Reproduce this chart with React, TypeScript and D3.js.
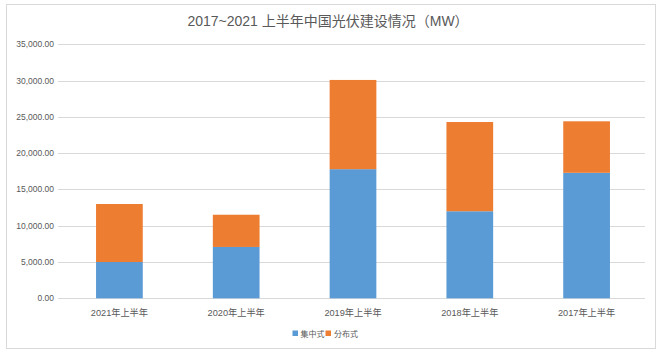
import React from "react";
import * as d3 from "d3";

const categories = ["2021年上半年", "2020年上半年", "2019年上半年", "2018年上半年", "2017年上半年"];
const centralized = [5000, 7080, 17800, 12000, 17300];
const distributed = [8000, 4440, 12300, 12300, 7100];
const seriesNames = ["集中式", "分布式"];
const yTicks = [0, 5000, 10000, 15000, 20000, 25000, 30000, 35000];
const title = "2017~2021 上半年中国光伏建设情况（MW）";

const W = 662;
const H = 361;
const colors = ["#5B9BD5", "#ED7D31"];
const FONT = "'Liberation Sans', 'Noto Sans CJK SC', sans-serif";

export default function App() {
  const x = d3.scaleBand<string>().domain(categories).range([61, 645]).paddingInner(0.6).paddingOuter(0.3);
  const y = d3.scaleLinear().domain([0, 35000]).range([298.3, 44.4]);
  const fmt = d3.format(",.2f");
  const rows = categories.map((c, i) => ({ c, a: centralized[i], b: distributed[i] }));
  const stack = d3.stack<any>().keys(["a", "b"])(rows);

  return (
    <svg width={W} height={H} style={{ position: "absolute", left: 0, top: 0, background: "#fff" }}>
      <rect x={6.5} y={4.5} width={649} height={344} fill="#fff" stroke="#d9d9d9" strokeWidth={1} />
      <text x={328} y={26} textAnchor="middle" fontFamily={FONT} fontSize={14} fill="#595959">{title}</text>
      {yTicks.map((t) => (
        <g key={t}>
          <line x1={58} x2={645} y1={Math.round(y(t)) + 0.5} y2={Math.round(y(t)) + 0.5} stroke="#d9d9d9" strokeWidth={1} />
          <text x={54} y={y(t) + 3} textAnchor="end" fontFamily={FONT} fontSize={8.5} fill="#595959">{fmt(t)}</text>
        </g>
      ))}
      {stack.map((s, si) => (
        <g key={si} fill={colors[si]}>
          {s.map((d: any, i: number) => (
            <rect key={i} x={x(categories[i])} width={x.bandwidth()} y={y(d[1])} height={y(d[0]) - y(d[1])} />
          ))}
        </g>
      ))}
      {categories.map((c) => (
        <text key={c} x={(x(c) as number) + x.bandwidth() / 2} y={315.5} textAnchor="middle" fontFamily={FONT} fontSize={9.2} fill="#595959">{c}</text>
      ))}
      <g>
        <rect x={292.5} y={330.5} width={5.5} height={5.5} fill={colors[0]} />
        <text x={300.5} y={336.5} fontFamily={FONT} fontSize={8} fill="#595959">{seriesNames[0]}</text>
        <rect x={325.5} y={330.5} width={5.5} height={5.5} fill={colors[1]} />
        <text x={334} y={336.5} fontFamily={FONT} fontSize={8} fill="#595959">{seriesNames[1]}</text>
      </g>
    </svg>
  );
}
